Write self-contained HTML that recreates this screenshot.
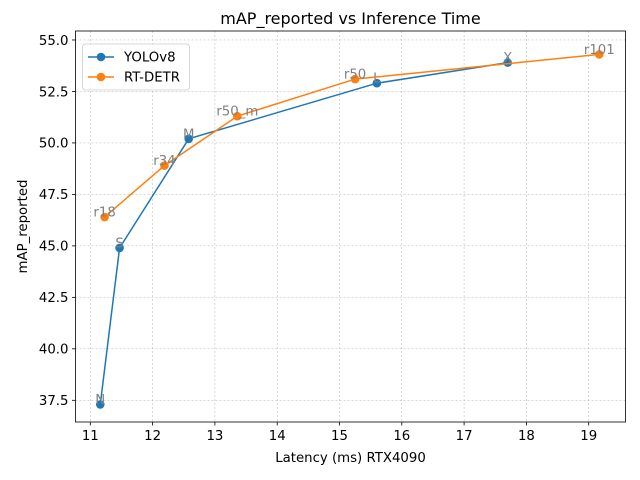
<!DOCTYPE html>
<html><head><meta charset="utf-8"><style>body{margin:0;background:#fff}svg{display:block;font-family:"DejaVu Sans","Liberation Sans",sans-serif}</style></head>
<body>
<svg width="640" height="480" viewBox="0 0 640 480">
<g id="g"></g>
</svg>
<script>
const yoloNames=["N","S","M","L","X"];
const yoloLat=[11.16,11.47,12.58,15.6,17.7];
const yoloMap=[37.3,44.9,50.2,52.9,53.9];
const detrNames=["r18","r34","r50_m","r50","r101"];
const detrLat=[11.23,12.19,13.36,15.25,19.17];
const detrMap=[46.4,48.9,51.3,53.1,54.3];
const xTicks=[11,12,13,14,15,16,17,18,19];
const yTicks=[37.5,40.0,42.5,45.0,47.5,50.0,52.5,55.0];
const L=75.5,R=625.5,T=31,B=422;
function X(v){return 90.3+(v-11)*62.3;}
function Y(v){return 400.3-(v-37.5)*20.59;}
const NS="http://www.w3.org/2000/svg";
const g=document.getElementById('g');
function el(t,a,txt){const e=document.createElementNS(NS,t);for(const k in a)e.setAttribute(k,a[k]);if(txt!==undefined)e.textContent=txt;g.appendChild(e);return e;}
xTicks.forEach(v=>{const x=X(v);
const gl=el('line',{x1:x,x2:x,y1:T,y2:B,stroke:'#b0b0b0','stroke-width':0.5,'stroke-dasharray':'2,2'});


el('line',{x1:x,x2:x,y1:B,y2:B+3.5,stroke:'#000','stroke-width':0.8});
const t=el('text',{x:x,y:B+18,'font-size':13.3,'text-anchor':'middle'},String(v));

});
yTicks.forEach(v=>{const y=Y(v);
const gl=el('line',{x1:L,x2:R,y1:y,y2:y,stroke:'#b0b0b0','stroke-width':0.5,'stroke-dasharray':'2,2'});


el('line',{x1:L-3.5,x2:L,y1:y,y2:y,stroke:'#000','stroke-width':0.8});
const t=el('text',{x:L-7,y:y+4.8,'font-size':13.3,'text-anchor':'end'},v.toFixed(1));

});
function series(lat,map,names,color,name){
const pts=lat.map((v,i)=>X(v)+','+Y(map[i])).join(' ');
const pl=el('polyline',{points:pts,fill:'none',stroke:color,'stroke-width':1.5});


lat.forEach((v,i)=>{const c=el('circle',{cx:X(v),cy:Y(map[i]),r:4.3,fill:color});

});
lat.forEach((v,i)=>{const t=el('text',{x:X(v),y:Y(map[i])-0.5,'font-size':13.3,'text-anchor':'middle',fill:'#808080'},names[i]);

});
}
series(yoloLat,yoloMap,yoloNames,'#1f77b4','yolov8');
series(detrLat,detrMap,detrNames,'#ff7f0e','rt-detr');
const fr=el('rect',{x:L,y:T,width:R-L,height:B-T,fill:'none',stroke:'#000','stroke-width':0.8});


const ti=el('text',{x:(L+R)/2,y:T-7,'font-size':16,'text-anchor':'middle'},'mAP_reported vs Inference Time');


const xl=el('text',{x:(L+R)/2,y:462,'font-size':13.3,'text-anchor':'middle'},'Latency (ms) RTX4090');


const yl=el('text',{x:0,y:0,'font-size':13.3,'text-anchor':'middle',transform:'translate(27,'+((T+B)/2)+') rotate(-90)'},'mAP_reported');


const lg=el('rect',{x:82.5,y:44,width:107,height:46,rx:3,fill:'#fff','fill-opacity':0.8,stroke:'#ccc','stroke-width':0.8});


[['YOLOv8','#1f77b4',57],['RT-DETR','#ff7f0e',77]].forEach(([n,c,y])=>{
el('line',{x1:88,x2:114,y1:y,y2:y,stroke:c,'stroke-width':1.5});
el('circle',{cx:101,cy:y,r:4.3,fill:c});
const t=el('text',{x:124,y:y+4.7,'font-size':13.3},n);

});
</script>
</body></html>
